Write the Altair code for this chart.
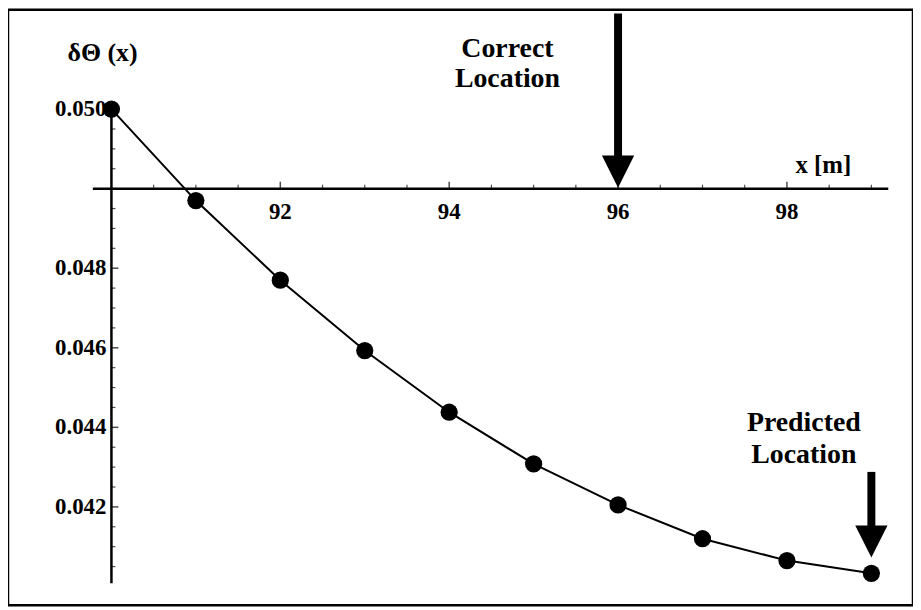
import altair as alt
import pandas as pd

# ---- data ----
x_vals = [90, 91, 92, 93, 94, 95, 96, 97, 98, 99]
y_vals = [0.0520, 0.0497, 0.0477, 0.04593, 0.04438, 0.04308, 0.04205, 0.0412, 0.04065, 0.04033]

x_tick_values = [92, 94, 96, 98]
x_tick_labels = ["92", "94", "96", "98"]
x_minor_values = [90.5, 91, 91.5, 92.5, 93, 93.5, 94.5, 95, 95.5, 96.5, 97, 97.5, 98.5, 99]

y_tick_values = [0.042, 0.044, 0.046, 0.048, 0.052]
y_tick_labels = ["0.042", "0.044", "0.046", "0.048", "0.050"]
y_minor_values = [0.0405, 0.041, 0.0415, 0.0425, 0.043, 0.0435, 0.0445, 0.045, 0.0455,
                  0.0465, 0.047, 0.0475, 0.0485, 0.049, 0.0495, 0.0505, 0.051, 0.0515]

x_origin = 90
y_origin = 0.050
x_axis_range = [89.78, 99.2]
y_axis_range = [0.04008, 0.0522]

arrow_x = [96, 99]
arrow_top = [0.0544, 0.04288]
arrow_head = [0.05043, 0.04113]

ann_text = ["Correct", "Location", "Predicted", "Location"]
ann_x = [94.69, 94.69, 98.2, 98.2]
ann_y = [0.05352, 0.05275, 0.04412, 0.0433]

x_domain = [88.775, 99.493]
y_domain = [0.039525, 0.0545]

FONT = "Liberation Serif"

xs = alt.Scale(domain=x_domain, nice=False, zero=False)
ys = alt.Scale(domain=y_domain, nice=False, zero=False)

pts = pd.DataFrame({"x": x_vals, "y": y_vals})

X = lambda f="x": alt.X(f"{f}:Q", scale=xs, axis=None)
Y = lambda f="y": alt.Y(f"{f}:Q", scale=ys, axis=None)

# axes lines
xaxis_df = pd.DataFrame({"x": [x_axis_range[0]], "x2": [x_axis_range[1]], "y": [y_origin]})
xaxis = alt.Chart(xaxis_df).mark_rule(color="black", strokeWidth=2.5).encode(
    x=X(), x2="x2:Q", y=Y())
yaxis_df = pd.DataFrame({"x": [x_origin], "y": [y_axis_range[0]], "y2": [y_axis_range[1]]})
yaxis = alt.Chart(yaxis_df).mark_rule(color="black", strokeWidth=2.5).encode(
    x=X(), y=Y(), y2="y2:Q")

# ticks
xmaj_df = pd.DataFrame({"x": x_tick_values, "y": [y_origin] * len(x_tick_values), "t": x_tick_labels})
xmin_df = pd.DataFrame({"x": x_minor_values, "y": [y_origin] * len(x_minor_values)})
xmaj = alt.Chart(xmaj_df).mark_tick(orient="vertical", size=7, thickness=1.5, color="black",
                                    yOffset=-3.5).encode(x=X(), y=Y())
xmin = alt.Chart(xmin_df).mark_tick(orient="vertical", size=4, thickness=1.2, color="black",
                                    yOffset=-2).encode(x=X(), y=Y())
xlab = alt.Chart(xmaj_df).mark_text(font=FONT, fontWeight="bold", fontSize=23, baseline="top",
                                    dy=13, color="black").encode(x=X(), y=Y(), text="t:N")

ymaj_df = pd.DataFrame({"x": [x_origin] * len(y_tick_values), "y": y_tick_values, "t": y_tick_labels})
ymin_df = pd.DataFrame({"x": [x_origin] * len(y_minor_values), "y": y_minor_values})
ymaj = alt.Chart(ymaj_df).mark_tick(orient="horizontal", size=7, thickness=1.5, color="black",
                                    xOffset=3.5).encode(x=X(), y=Y())
ymin = alt.Chart(ymin_df).mark_tick(orient="horizontal", size=4, thickness=1.2, color="black",
                                    xOffset=2).encode(x=X(), y=Y())
ylab = alt.Chart(ymaj_df).mark_text(font=FONT, fontWeight="bold", fontSize=23, align="right",
                                    baseline="middle", dx=-5, color="black").encode(
    x=X(), y=Y(), text="t:N")

# data
line = alt.Chart(pts).mark_line(color="black", strokeWidth=2).encode(x=X(), y=Y())
dots = alt.Chart(pts).mark_point(filled=True, opacity=1, color="black", size=300).encode(x=X(), y=Y())

# axis titles
ytitle = alt.Chart(pd.DataFrame({"x": [89.48], "y": [0.0534], "t": ["δΘ (x)"]})).mark_text(
    font=FONT, fontWeight="bold", fontSize=26, align="left", baseline="middle", color="black"
).encode(x=X(), y=Y(), text="t:N")
xtitle = alt.Chart(pd.DataFrame({"x": [98.1], "y": [0.0506], "t": ["x [m]"]})).mark_text(
    font=FONT, fontWeight="bold", fontSize=25, align="left", baseline="middle", color="black"
).encode(x=X(), y=Y(), text="t:N")

# arrows
arr_df = pd.DataFrame({"x": arrow_x, "top": arrow_top, "head": arrow_head})
shaft = alt.Chart(arr_df).mark_rule(color="black", strokeWidth=8).encode(
    x=X(), y=Y("top"), y2="head:Q")
head = alt.Chart(arr_df).mark_point(shape="M-1,-1L1,-1L0,1Z", filled=True, opacity=1,
                                    color="black", size=1050).encode(x=X(), y=Y("head"))

ann_df = pd.DataFrame({"x": ann_x, "y": ann_y, "t": ann_text})
ann = alt.Chart(ann_df).mark_text(font=FONT, fontWeight="bold", fontSize=28, align="center",
                                  baseline="middle", color="black").encode(x=X(), y=Y(), text="t:N")

chart = alt.layer(
    xaxis, yaxis, xmin, xmaj, ymin, ymaj, xlab, ylab, line, dots, ytitle, xtitle, shaft, head, ann
).properties(
    width=910, height=599, padding=0, background="white"
).configure_view(stroke="black", strokeWidth=2.5)

chart.save("out.html", embed_options={"renderer": "svg", "actions": False})
